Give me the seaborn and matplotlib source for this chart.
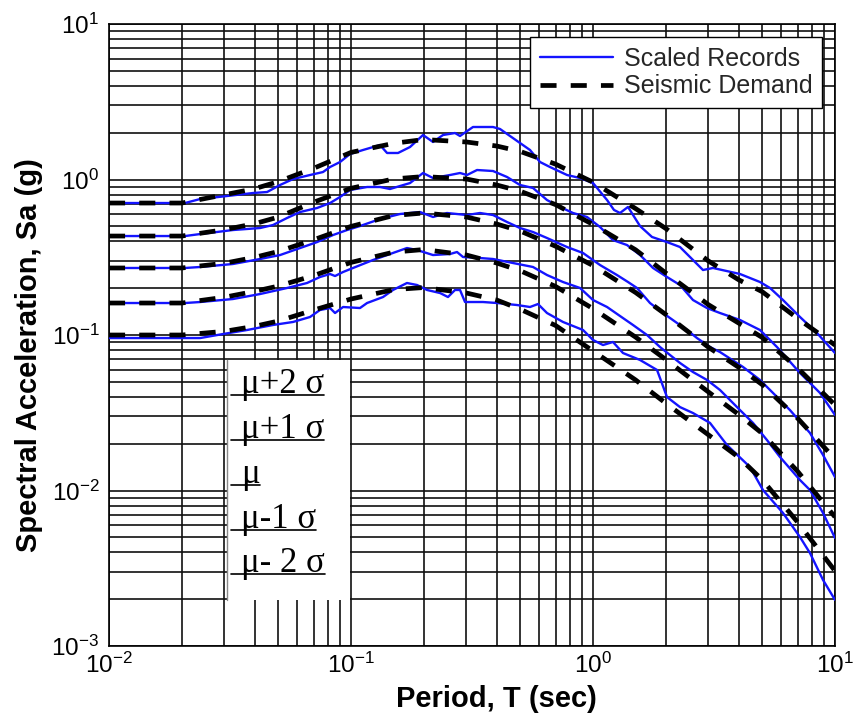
import numpy as np
import pandas as pd
import matplotlib
matplotlib.use("Agg")
import matplotlib.pyplot as plt
import seaborn as sns
from matplotlib.lines import Line2D
from matplotlib.patches import Rectangle
from matplotlib.ticker import LogLocator, NullFormatter

sns.set_theme(style="white")
plt.rcParams['font.family'] = ['Liberation Sans', 'DejaVu Sans']
plt.rcParams['mathtext.fontset'] = 'custom'
plt.rcParams['mathtext.rm'] = 'Liberation Sans'
plt.rcParams['mathtext.it'] = 'Liberation Sans:italic'
plt.rcParams['mathtext.bf'] = 'Liberation Sans:bold'
plt.rcParams['axes.unicode_minus'] = False

# ---------------- data ----------------
# Seismic demand spectra (dashed), common period grid
T_dem = [0.01, 0.02, 0.03, 0.04, 0.05, 0.07, 0.1, 0.15, 0.2, 0.3, 0.4, 0.5, 0.7,
         1.0, 1.5, 2, 3, 4, 5, 7, 10]
dem_p2 = [0.706, 0.706, 0.798, 0.873, 0.969, 1.18, 1.494, 1.709, 1.808, 1.743, 1.642,
          1.516, 1.256, 0.961, 0.650, 0.484, 0.299, 0.2265, 0.190, 0.128, 0.0862]
dem_p1 = [0.433, 0.433, 0.476, 0.520, 0.573, 0.714, 0.878, 1.009, 1.045, 1.007, 0.922,
          0.841, 0.690, 0.514, 0.353, 0.2504, 0.1566, 0.1193, 0.0965, 0.0614, 0.0355]
dem_mu = [0.2698, 0.2698, 0.2895, 0.316, 0.3443, 0.4095, 0.4994, 0.5868, 0.609, 0.5737,
          0.5174, 0.4665, 0.3725, 0.2798, 0.1876, 0.1354, 0.0834, 0.0620, 0.0480, 0.0292,
          0.01594]
dem_m1 = [0.1606, 0.1606, 0.175, 0.191, 0.2063, 0.241, 0.2929, 0.3412, 0.3547, 0.3268,
          0.2904, 0.2592, 0.2053, 0.1478, 0.0969, 0.0695, 0.0430, 0.0308, 0.0233, 0.0133,
          0.00676]
dem_m2 = [0.100, 0.100, 0.1056, 0.1138, 0.1229, 0.1446, 0.1704, 0.1959, 0.2020, 0.1862,
          0.1679, 0.1465, 0.1152, 0.0789, 0.0514, 0.0364, 0.0228, 0.01635, 0.01174,
          0.00627, 0.00304]

# Scaled records (solid blue)
rec_p2_T = [0.01, 0.0206, 0.0238, 0.0307, 0.0394, 0.0450, 0.0509, 0.0576, 0.0677, 0.0766,
            0.0819, 0.0901, 0.0991, 0.1121, 0.1318, 0.1409, 0.1564, 0.1753, 0.1984, 0.2182,
            0.2400, 0.2690, 0.2821, 0.3192, 0.3862, 0.4127, 0.4539, 0.4992, 0.5491, 0.6039,
            0.6642, 0.781, 0.8838, 1.0, 1.143, 1.221, 1.293, 1.395, 1.564, 1.753, 2.022,
            2.288, 2.589, 2.848, 3.133, 4.050, 4.898, 5.388, 6.097, 7.167, 8.425, 10.0]
rec_p2 = [0.706, 0.706, 0.749, 0.783, 0.819, 0.831, 0.922, 1.007, 1.069, 1.117, 1.203,
          1.296, 1.459, 1.548, 1.667, 1.481, 1.481, 1.618, 1.933, 1.743, 1.933, 1.991,
          1.905, 2.176, 2.176, 2.113, 1.905, 1.717, 1.548, 1.296, 1.203, 1.069, 1.022,
          0.949, 0.738, 0.637, 0.609, 0.666, 0.502, 0.427, 0.396, 0.368, 0.3037, 0.2618,
          0.2698, 0.2468, 0.2192, 0.2006, 0.1679, 0.1306, 0.1030, 0.0766]

rec_p1_T = [0.01, 0.0206, 0.0238, 0.0325, 0.0421, 0.0476, 0.0544, 0.0616, 0.0724, 0.0819,
            0.0901, 0.0991, 0.1165, 0.1318, 0.1449, 0.1753, 0.1984, 0.2182, 0.2565, 0.2821,
            0.3015, 0.3317, 0.3862, 0.4412, 0.4992, 0.5650, 0.6455, 0.7306, 0.8269, 0.9445,
            1.069, 1.209, 1.382, 1.564, 1.770, 2.022, 2.288, 2.589, 2.959, 3.348, 4.050,
            4.898, 5.758, 7.167, 8.670, 10.0]
rec_p1 = [0.433, 0.433, 0.446, 0.4733, 0.4876, 0.5098, 0.5655, 0.618, 0.6559, 0.706,
          0.772, 0.856, 0.895, 0.895, 0.869, 0.949, 1.101, 1.022, 1.069, 1.101, 1.069,
          1.151, 1.134, 1.038, 0.922, 0.882, 0.738, 0.666, 0.609, 0.574, 0.495, 0.408,
          0.379, 0.327, 0.2698, 0.236, 0.2097, 0.1679, 0.1491, 0.1385, 0.1249, 0.1077,
          0.0837, 0.0570, 0.0424, 0.0306]

rec_mu_T = [0.01, 0.0206, 0.0238, 0.0325, 0.0421, 0.0509, 0.0616, 0.0724, 0.0843, 0.0963,
            0.1089, 0.1318, 0.1594, 0.1928, 0.2182, 0.2492, 0.3015, 0.3412, 0.3862, 0.4412,
            0.4992, 0.5650, 0.6455, 0.781, 0.9094, 1.069, 1.256, 1.395, 1.520, 1.720, 1.946,
            2.224, 2.446, 2.690, 3.044, 3.348, 4.167, 4.898, 5.544, 6.516, 7.882, 8.923, 10.0]
rec_mu = [0.2698, 0.2698, 0.2738, 0.2862, 0.3082, 0.3268, 0.3626, 0.396, 0.4396, 0.4733,
          0.502, 0.557, 0.600, 0.618, 0.574, 0.609, 0.591, 0.609, 0.591, 0.533, 0.4876,
          0.4596, 0.4205, 0.368, 0.3368, 0.2819, 0.2431, 0.2192, 0.2006, 0.1606, 0.1385,
          0.1195, 0.1077, 0.0956, 0.0837, 0.0777, 0.0623, 0.0514, 0.0424, 0.0329, 0.02344,
          0.01692, 0.01221]

rec_m1_T = [0.01, 0.0206, 0.0238, 0.0325, 0.0421, 0.0544, 0.0658, 0.0744, 0.0819, 0.0859,
            0.0927, 0.1019, 0.1233, 0.1449, 0.1703, 0.1874, 0.2182, 0.2565, 0.2742, 0.2903,
            0.3412, 0.3862, 0.4670, 0.5650, 0.6455, 0.7516, 0.8838, 1.0, 1.143, 1.293, 1.463,
            1.672, 1.892, 2.080, 2.288, 2.589, 2.959, 3.348, 4.050, 4.583, 5.236, 5.925,
            7.167, 7.882, 8.923, 10.0]
rec_m1 = [0.1606, 0.1606, 0.1630, 0.1704, 0.1835, 0.2006, 0.2160, 0.236, 0.2468, 0.2395,
          0.2542, 0.2698, 0.3037, 0.3318, 0.3626, 0.3521, 0.3268, 0.3318, 0.3418, 0.3174,
          0.3127, 0.3082, 0.2904, 0.2738, 0.2431, 0.2192, 0.2006, 0.1679, 0.1514, 0.1325,
          0.1160, 0.1000, 0.0837, 0.0744, 0.0661, 0.0578, 0.0514, 0.0443, 0.0329, 0.0272,
          0.0211, 0.01642, 0.01168, 0.01007, 0.00717, 0.00495]

rec_m2_T = [0.01, 0.0238, 0.0296, 0.0372, 0.0476, 0.0576, 0.0677, 0.0744, 0.0819, 0.0859,
            0.0927, 0.1089, 0.1165, 0.1356, 0.1491, 0.1703, 0.1874, 0.2061, 0.2333, 0.2516,
            0.2690, 0.2821, 0.2959, 0.3511, 0.4011, 0.4853, 0.5491, 0.5924, 0.6455, 0.7516,
            0.9094, 1.0, 1.100, 1.209, 1.330, 1.564, 1.839, 2.022, 2.288, 2.589, 3.044,
            3.579, 4.454, 5.040, 6.097, 7.167, 7.882, 8.923, 10.0]
rec_m2 = [0.0956, 0.0956, 0.1015, 0.1077, 0.1160, 0.1213, 0.1306, 0.1448, 0.1491, 0.1385,
          0.1514, 0.1491, 0.1606, 0.1755, 0.1948, 0.2160, 0.2097, 0.1948, 0.1862, 0.1755,
          0.1948, 0.1948, 0.1630, 0.1630, 0.1606, 0.1559, 0.1514, 0.1582, 0.1385, 0.1213,
          0.1077, 0.0929, 0.0862, 0.0902, 0.0766, 0.0691, 0.0596, 0.0399, 0.0344, 0.0315,
          0.0272, 0.0196, 0.01416, 0.01007, 0.00717, 0.00502, 0.00396, 0.00266, 0.00198]

legend_labels = ["Scaled Records", "Seismic Demand"]
level_labels = ["\u03bc+2 \u03c3", "\u03bc+1 \u03c3", "\u03bc", "\u03bc-1 \u03c3", "\u03bc- 2 \u03c3"]

# ---------------- figure ----------------
BLUE = "#1414ff"
DASH = (0, (3.4, 3.0))

fig = plt.figure(figsize=(8.66, 7.21), dpi=100)
ax = fig.add_axes([0.1259, 0.104, 0.8383, 0.8627])
ax.set_facecolor("white")
ax.set_xscale("log")
ax.set_yscale("log")

records = [(rec_p2_T, rec_p2), (rec_p1_T, rec_p1), (rec_mu_T, rec_mu),
           (rec_m1_T, rec_m1), (rec_m2_T, rec_m2)]
demands = [dem_p2, dem_p1, dem_mu, dem_m1, dem_m2]

for T, Sa in records:
    df = pd.DataFrame({"T": T, "Sa": Sa})
    sns.lineplot(data=df, x="T", y="Sa", ax=ax, color=BLUE, lw=1.7,
                 estimator=None, sort=False, legend=False, zorder=3)
for Sa in demands:
    df = pd.DataFrame({"T": T_dem, "Sa": Sa})
    sns.lineplot(data=df, x="T", y="Sa", ax=ax, color="black", lw=3.4,
                 linestyle=DASH, estimator=None, sort=False, legend=False, zorder=4)

ax.set_xlim(1e-2, 10)
ax.set_ylim(1e-3, 10)

for axis in (ax.xaxis, ax.yaxis):
    axis.set_major_locator(LogLocator(base=10, numticks=20))
    axis.set_minor_locator(LogLocator(base=10, subs=np.arange(2, 10), numticks=50))
    axis.set_minor_formatter(NullFormatter())

ax.set_axisbelow(True)
ax.grid(True, which="both", color="#101010", lw=1.2)
ax.tick_params(which="both", length=0, labelsize=17.5, colors="black")
ax.tick_params(axis="y", pad=7)
ax.tick_params(axis="x", pad=5)
for sp in ax.spines.values():
    sp.set_color("black")
    sp.set_linewidth(1.2)

ax.set_xlabel("Period, T (sec)", fontsize=21, fontweight="bold", color="black")
ax.set_ylabel("Spectral Acceleration, Sa (g)", fontsize=21, fontweight="bold", color="black")
ax.xaxis.set_label_coords(0.534, -0.062)
ax.yaxis.set_label_coords(-0.091, 0.468)

# white annotation box covering the grid
box = Rectangle((0.1625, 0.074), 0.1695, 0.386, transform=ax.transAxes,
                facecolor="white", edgecolor="none", zorder=1)
ax.add_patch(box)
ax.add_artist(Line2D([0.1625, 0.1625], [0.074, 0.46], transform=ax.transAxes,
                     color="#888888", lw=1.0, zorder=1.2))

baselines = [0.4068, 0.3344, 0.2621, 0.1897, 0.119]
texts = []
for lab, yb in zip(level_labels, baselines):
    t = ax.text(0.182, yb, lab, transform=ax.transAxes, fontsize=25,
                family=["Liberation Serif", "DejaVu Serif"], color="black",
                ha="left", va="baseline", zorder=6)
    texts.append(t)

fig.canvas.draw()
renderer = fig.canvas.get_renderer()
inv = ax.transAxes.inverted()
for t, yb in zip(texts, baselines):
    bb = t.get_window_extent(renderer)
    (x0, _), (x1, _) = inv.transform([[bb.x0, bb.y0], [bb.x1, bb.y1]])
    ax.add_artist(Line2D([0.168, x1], [yb - 0.003, yb - 0.003], transform=ax.transAxes,
                         color="black", lw=1.2, zorder=6))

handles = [Line2D([], [], color=BLUE, lw=1.7),
           Line2D([], [], color="black", lw=3.4, linestyle=DASH)]
leg = ax.legend(handles, legend_labels, loc="upper right", fontsize=18, frameon=True,
                fancybox=False, edgecolor="black", framealpha=1, borderaxespad=0.5,
                handlelength=2.9, handletextpad=0.45, labelspacing=0.15, borderpad=0.4)
leg.get_frame().set_linewidth(1.0)
leg.set_zorder(7)

fig.savefig("out.png", dpi=100, facecolor="white")
